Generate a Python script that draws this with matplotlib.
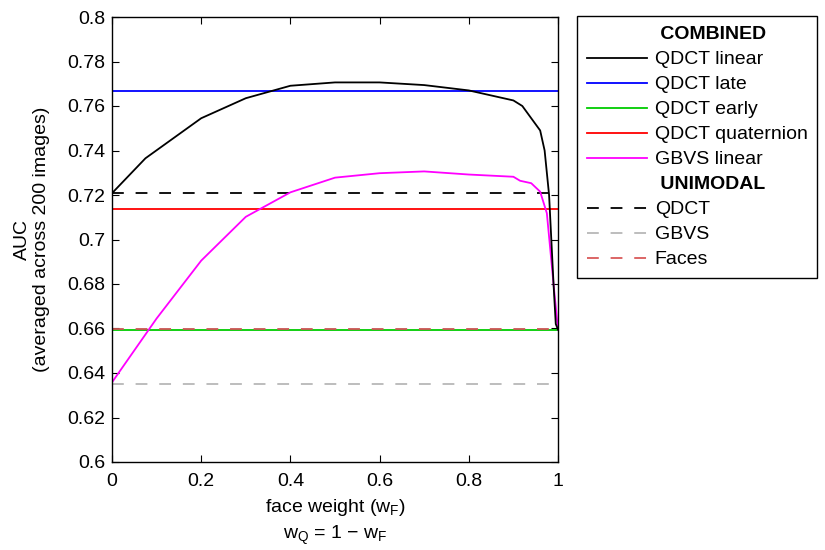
import matplotlib
matplotlib.use("Agg")
import matplotlib.pyplot as plt
from matplotlib.lines import Line2D
from matplotlib.ticker import FormatStrFormatter

plt.rcParams['font.family'] = ['Liberation Sans', 'DejaVu Sans']
plt.rcParams['mathtext.fontset'] = 'custom'
plt.rcParams['mathtext.rm'] = 'Liberation Sans'
plt.rcParams['mathtext.it'] = 'Liberation Sans'
plt.rcParams['mathtext.default'] = 'regular'
plt.rcParams['lines.scale_dashes'] = False

# ---- data ----
qdct_linear_w = [0.0, 0.075, 0.2, 0.3, 0.4, 0.5, 0.6, 0.7, 0.8, 0.9, 0.92, 0.94,
                 0.96, 0.97, 0.98, 0.985, 0.99, 0.995, 1.0]
qdct_linear_auc = [0.7208, 0.7365, 0.7545, 0.7635, 0.7691, 0.7706, 0.7706, 0.7694,
                   0.7670, 0.7625, 0.7600, 0.7545, 0.7490, 0.7400, 0.7200, 0.7000,
                   0.6800, 0.6620, 0.6595]

gbvs_linear_w = [0.0, 0.1, 0.2, 0.3, 0.4, 0.5, 0.6, 0.7, 0.8, 0.9, 0.915, 0.94,
                 0.96, 0.975, 0.99, 1.0]
gbvs_linear_auc = [0.6358, 0.6645, 0.6905, 0.7102, 0.7212, 0.7278, 0.7298, 0.7306,
                   0.7292, 0.7282, 0.7264, 0.7253, 0.7215, 0.7118, 0.6800, 0.6595]

qdct_late = 0.7668
qdct_early = 0.6592
qdct_quaternion = 0.7138
uni_qdct = 0.7208
uni_gbvs = 0.6352
uni_faces = 0.6596

x_ticks = [0, 0.2, 0.4, 0.6, 0.8, 1]
y_ticks = [0.6, 0.62, 0.64, 0.66, 0.68, 0.7, 0.72, 0.74, 0.76, 0.78, 0.8]

# ---- figure ----
fig = plt.figure(figsize=(8.25, 5.5), dpi=100)
ax = fig.add_axes([112/825, 1-462/550, (558-112)/825, (462-17)/550])

lw = 1.3
span = [0, 1]
dash = (8.5, 8.5)
ax.plot(span, [uni_gbvs]*2, color=(0.72, 0.72, 0.72), lw=lw, dashes=dash)
ax.plot(span, [qdct_early]*2, color='#00cc00', lw=lw)
ax.plot(span, [uni_faces]*2, color=(0.8, 0.33, 0.33), lw=lw, dashes=dash)
ax.plot(span, [qdct_quaternion]*2, color='#ff0000', lw=lw)
ax.plot(span, [qdct_late]*2, color='#0000ff', lw=lw)
ax.plot(span, [uni_qdct]*2, color='black', lw=lw, dashes=dash)
ax.plot(gbvs_linear_w, gbvs_linear_auc, color='#ff00ff', lw=lw)
ax.plot(qdct_linear_w, qdct_linear_auc, color='black', lw=lw)

ax.set_xlim(0, 1)
ax.set_ylim(0.6, 0.8)
ax.set_xticks(x_ticks)
ax.set_yticks(y_ticks)
ax.xaxis.set_major_formatter(FormatStrFormatter('%g'))
ax.yaxis.set_major_formatter(FormatStrFormatter('%g'))
ax.tick_params(direction='in', top=True, right=True, length=5, width=0.8,
               labelsize=14)
ax.tick_params(axis='x', pad=8)
ax.tick_params(axis='y', pad=5)
for s in ax.spines.values():
    s.set_linewidth(1.0)

ax.set_xlabel('face weight (w$_F$)\nw$_Q$ = 1 \u2212 w$_F$', fontsize=14,
              linespacing=1.4, labelpad=5)
ax.set_ylabel('AUC\n(averaged across 200 images)', fontsize=14, labelpad=12,
              linespacing=1.2)

blank = Line2D([], [], color='none')
handles = [
    blank,
    Line2D([], [], color='black', lw=lw),
    Line2D([], [], color='#0000ff', lw=lw),
    Line2D([], [], color='#00cc00', lw=lw),
    Line2D([], [], color='#ff0000', lw=lw),
    Line2D([], [], color='#ff00ff', lw=lw),
    blank,
    Line2D([], [], color='black', lw=lw, dashes=dash),
    Line2D([], [], color=(0.72, 0.72, 0.72), lw=lw, dashes=dash),
    Line2D([], [], color=(0.85, 0.35, 0.35), lw=lw, dashes=dash),
]
labels = [' COMBINED', 'QDCT linear', 'QDCT late', 'QDCT early', 'QDCT quaternion',
          'GBVS linear', ' UNIMODAL', 'QDCT', 'GBVS', 'Faces']
leg = fig.legend(handles, labels, loc='upper left',
                 bbox_to_anchor=(577/825, 1-16/550), bbox_transform=fig.transFigure,
                 fontsize=14, frameon=True, fancybox=False, edgecolor='black',
                 framealpha=1, borderaxespad=0, borderpad=0.5, labelspacing=0.38,
                 handlelength=3.1, handletextpad=0.4)
leg.get_frame().set_linewidth(1.0)
for t in leg.get_texts():
    if t.get_text().strip() in ('COMBINED', 'UNIMODAL'):
        t.set_fontweight('bold')

fig.savefig('out.png', dpi=100)
